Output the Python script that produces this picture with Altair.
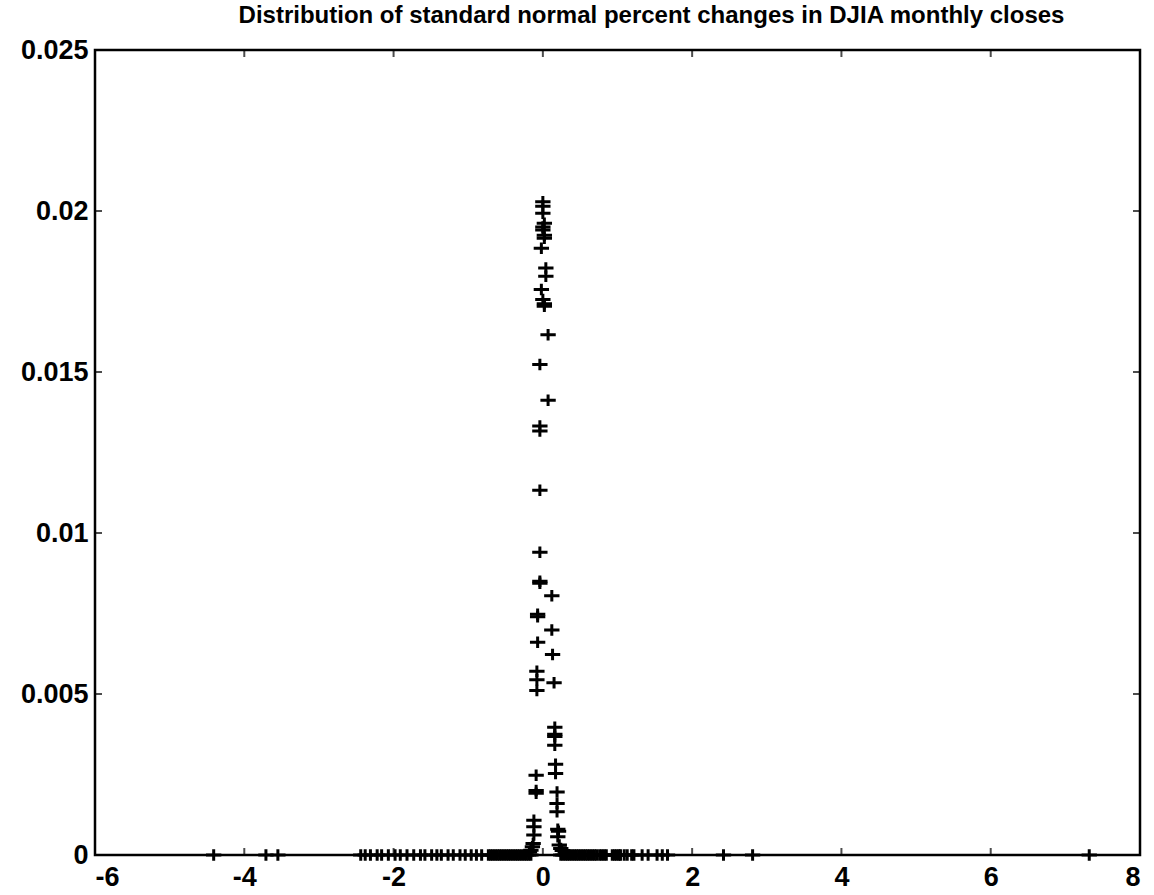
import altair as alt
import pandas as pd

title_text = "Distribution of standard normal percent changes in DJIA monthly closes"

# points of the central spike
spike_x = [0.00, 0.00, 0.00, 0.02, 0.00, 0.00, 0.02, 0.02, -0.02, 0.04,
           0.04, -0.02, 0.00, 0.02, 0.02, 0.07, -0.04, 0.07, -0.04, -0.04,
           -0.04, -0.04, -0.04, -0.04, 0.12, -0.07, -0.07, 0.12, -0.07, 0.13,
           -0.08, -0.08, -0.08, 0.15, 0.16, 0.16, 0.16, 0.16, 0.17, 0.17,
           -0.09, -0.09, -0.09, 0.19, 0.19, 0.19, -0.12, -0.12, -0.12, 0.20,
           0.21, 0.20, -0.13, -0.14, 0.22, 0.24, 0.26, 0.30, -0.16, -0.18]
spike_y = [0.02029, 0.02015, 0.01993, 0.01962, 0.01950, 0.01941, 0.01925, 0.01915, 0.01884, 0.01823,
           0.01797, 0.01756, 0.01725, 0.01712, 0.01704, 0.01616, 0.01523, 0.01412, 0.01332, 0.01317,
           0.01133, 0.00940, 0.00850, 0.00844, 0.00805, 0.00748, 0.00740, 0.00699, 0.00661, 0.00623,
           0.00571, 0.00544, 0.00511, 0.00535, 0.00397, 0.00375, 0.00368, 0.00341, 0.00282, 0.00253,
           0.00248, 0.00200, 0.00192, 0.00196, 0.00160, 0.00134, 0.00108, 0.00088, 0.00062, 0.00080,
           0.00074, 0.00057, 0.00036, 0.00026, 0.00031, 0.00020, 0.00014, 0.00009, 0.00015, 0.00009]

# points lying on the baseline (value ~ 0)
base_x = [-4.41, -3.71, -3.55,
          -2.44, -2.38, -2.31, -2.22, -2.16, -2.07, -1.98, -1.91, -1.82, -1.73,
          -1.64, -1.58, -1.49, -1.42, -1.36, -1.27, -1.20, -1.11, -1.04, -0.96,
          -0.89, -0.82,
          -0.73, -0.70, -0.67, -0.64, -0.61, -0.58, -0.55, -0.52, -0.49, -0.46,
          -0.43, -0.40, -0.37, -0.34, -0.31, -0.28, -0.25, -0.22, -0.19, -0.16,
          0.24, 0.27, 0.30, 0.33, 0.36, 0.39, 0.42, 0.45, 0.48, 0.51, 0.54,
          0.57, 0.60, 0.63, 0.66, 0.69, 0.72, 0.76, 0.79, 0.82, 0.85, 0.93,
          0.96, 0.99, 1.02, 1.04, 1.09, 1.13, 1.19, 1.22, 1.33, 1.41, 1.53,
          1.60, 1.67, 2.42, 2.81, 7.32]

x_ticks = [-6, -4, -2, 0, 2, 4, 6, 8]
y_ticks = [0, 0.005, 0.01, 0.015, 0.02, 0.025]

points = pd.DataFrame({"x": spike_x + base_x,
                       "y": spike_y + [0.0] * len(base_x)})

xs = alt.Scale(domain=[x_ticks[0], x_ticks[-1]], nice=False, zero=False)
ys = alt.Scale(domain=[y_ticks[0], y_ticks[-1]], nice=False, zero=False)

x_axis = alt.Axis(values=x_ticks, ticks=False, domain=False, grid=False,
                  labelPadding=9, title=None, labelExpr="toString(datum.value)")
y_axis = alt.Axis(values=y_ticks, ticks=False, domain=False, grid=False,
                  labelPadding=7, title=None, labelExpr="toString(datum.value)")

plus = "M -1 0 L 1 0 M 0 -0.75 L 0 0.75"

marks = alt.Chart(points).mark_point(
    shape=plus, filled=False, color="black", strokeWidth=3, size=235, opacity=1
).encode(
    x=alt.X("x:Q", scale=xs, axis=x_axis),
    y=alt.Y("y:Q", scale=ys, axis=y_axis),
)

xt = pd.DataFrame({"t": x_ticks, "lo": [y_ticks[0]] * len(x_ticks),
                   "hi": [y_ticks[-1]] * len(x_ticks)})
yt = pd.DataFrame({"t": y_ticks, "lo": [x_ticks[0]] * len(y_ticks),
                   "hi": [x_ticks[-1]] * len(y_ticks)})

tick_style = dict(color="black", thickness=2, size=14, clip=True)

bottom_ticks = alt.Chart(xt).mark_tick(orient="vertical", **tick_style).encode(
    x=alt.X("t:Q", scale=xs, axis=x_axis), y=alt.Y("lo:Q", scale=ys, axis=y_axis))
top_ticks = alt.Chart(xt).mark_tick(orient="vertical", **tick_style).encode(
    x=alt.X("t:Q", scale=xs, axis=x_axis), y=alt.Y("hi:Q", scale=ys, axis=y_axis))
left_ticks = alt.Chart(yt).mark_tick(orient="horizontal", **tick_style).encode(
    y=alt.Y("t:Q", scale=ys, axis=y_axis), x=alt.X("lo:Q", scale=xs, axis=x_axis))
right_ticks = alt.Chart(yt).mark_tick(orient="horizontal", **tick_style).encode(
    y=alt.Y("t:Q", scale=ys, axis=y_axis), x=alt.X("hi:Q", scale=xs, axis=x_axis))

chart = alt.layer(marks, bottom_ticks, top_ticks, left_ticks, right_ticks).properties(
    width=1045,
    height=805,
    title=alt.TitleParams(title_text, fontSize=24, font="Liberation Sans",
                          fontWeight="bold", color="black", anchor="middle",
                          offset=8, dx=34),
    autosize=alt.AutoSizeParams(type="none"),
    padding={"left": 95, "top": 50, "right": 14, "bottom": 40},
    background="white",
).configure_view(
    stroke="black", strokeWidth=2.5
).configure_axis(
    labelFont="Liberation Sans", labelFontSize=27, labelFontWeight="bold",
    labelColor="black"
)

chart.save("out.html", embed_options={"renderer": "svg", "actions": False})
